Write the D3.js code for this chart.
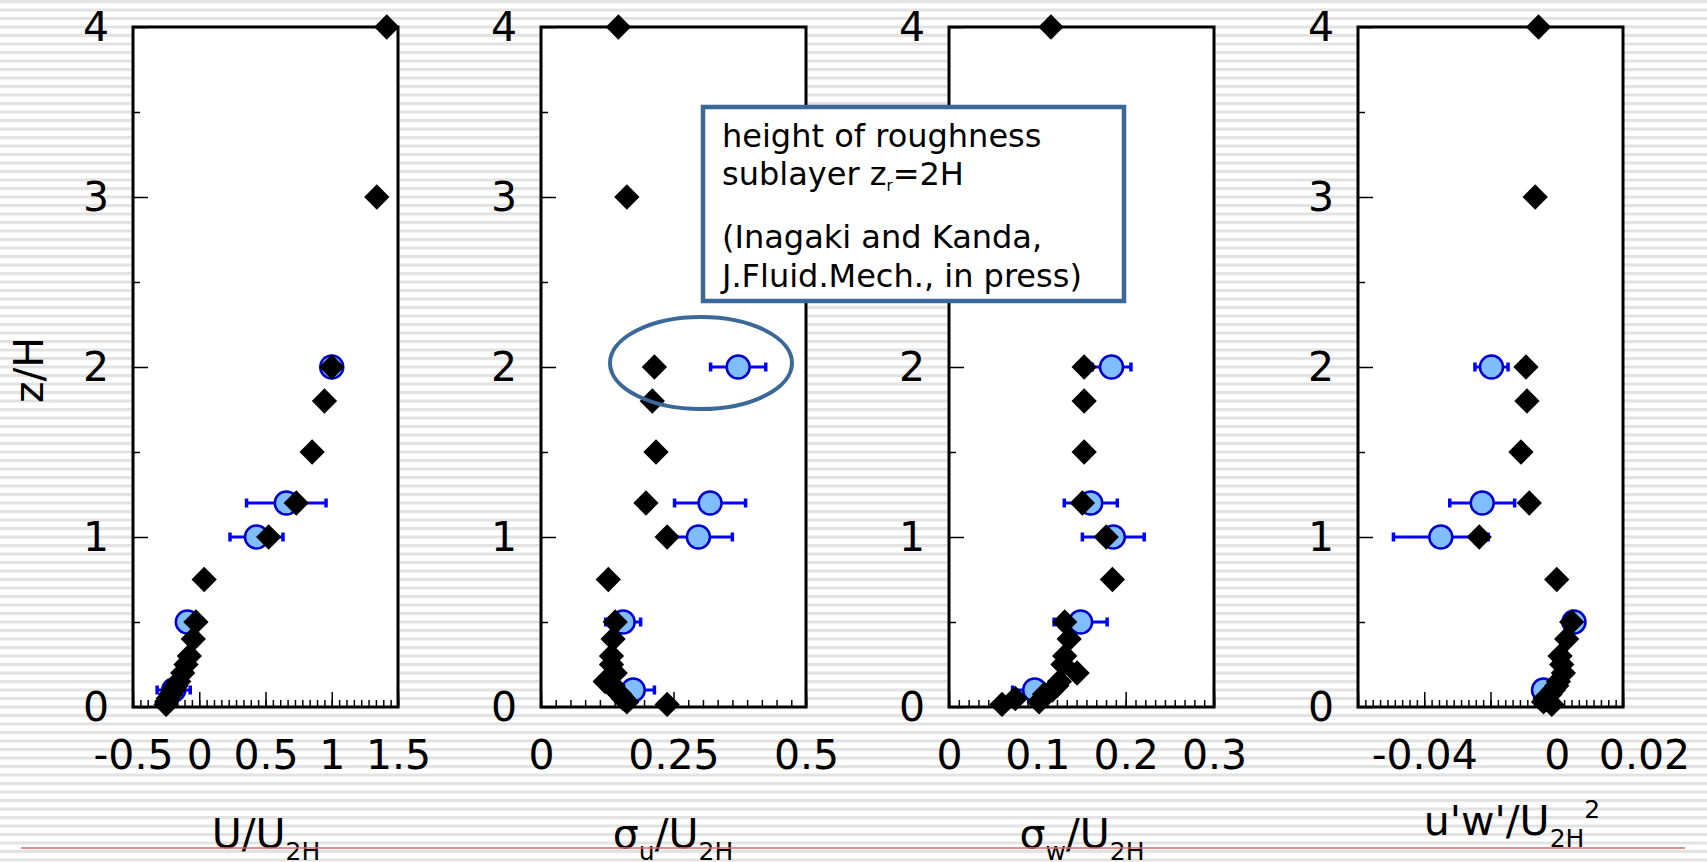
<!DOCTYPE html>
<html>
<head>
<meta charset="utf-8">
<script src="https://cdn.jsdelivr.net/npm/d3@7/dist/d3.min.js"></script>
<style>
  html, body { margin: 0; padding: 0; background: #fff; }
  svg { display: block; font-family: "DejaVu Sans", sans-serif; }
</style>
</head>
<body>
<svg id="chart" width="1707" height="862"></svg>
<script>
// heights of the model profile (diamonds), z/H
var zModel = [0.015, 0.03, 0.05, 0.075, 0.1, 0.125, 0.15, 0.2, 0.25, 0.3, 0.4, 0.5, 0.75, 1, 1.2, 1.5, 1.8, 2, 3, 4]
var meanU  = [-0.25, -0.245, -0.235, -0.215, -0.195, -0.175, -0.155, -0.125, -0.1, -0.075, -0.045, -0.025, 0.037, 0.524, 0.732, 0.852, 0.945, 1.0, 1.34, 1.415]
var sigmaU = [0.238, 0.162, 0.155, 0.149, 0.14, 0.136, 0.121, 0.14, 0.133, 0.133, 0.136, 0.14, 0.127, 0.238, 0.198, 0.217, 0.21, 0.214, 0.162, 0.146]
var sigmaW = [0.06, 0.102, 0.075, 0.108, 0.117, 0.122, 0.125, 0.145, 0.129, 0.131, 0.136, 0.131, 0.185, 0.178, 0.151, 0.153, 0.153, 0.153, 0.12, 0.1154]
var uwFlux = [-0.0015, -0.004, -0.0035, -0.002, -0.001, 0, 0.0005, 0.002, 0.0015, 0.001, 0.003, 0.0045, 0, -0.0234, -0.0083, -0.0108, -0.009, -0.0093, -0.0065, -0.0055]

// observations (circles with error bars)
var zObs = [0.1, 0.5, 1.0, 1.2, 2]
var obsU      = [-0.193, -0.09, 0.432, 0.657, 1.0]
var obsUErr   = [0.125, 0.015, 0.2, 0.3, 0.01]
var obsSu     = [0.174, 0.155, 0.297, 0.319, 0.372]
var obsSuErr  = [0.04, 0.033, 0.064, 0.067, 0.052]
var obsSw     = [0.097, 0.149, 0.186, 0.1605, 0.184]
var obsSwErr  = [0.025, 0.03, 0.035, 0.03, 0.022]
var obsUw     = [-0.004, 0.0052, -0.035, -0.0225, -0.0197]
var obsUwErr  = [0.002, 0.001, 0.0143, 0.0098, 0.005]

var yTicks = [0, 1, 2, 3, 4]

var svg = d3.select('#chart')
var W = 1707, H = 862

// striped background
var defs = svg.append('defs')
var pat = defs.append('pattern')
  .attr('id', 'stripes')
  .attr('patternUnits', 'userSpaceOnUse')
  .attr('width', 20).attr('height', 8.5)
pat.append('rect').attr('width', 20).attr('height', 8.5).attr('fill', '#ffffff')
pat.append('rect').attr('y', 0).attr('width', 20).attr('height', 3).attr('fill', '#e2e2e2')
svg.append('rect').attr('width', W).attr('height', H).attr('fill', 'url(#stripes)')

var plotTop = 27, plotBottom = 707
var yScale = d3.scaleLinear().domain([0, 4]).range([plotBottom, plotTop])

var panels = [
  { left: 133, right: 398, domain: [-0.5, 1.5], major: 0.5, labels: [-0.5, 0, 0.5, 1, 1.5],
    model: meanU, obs: obsU, err: obsUErr },
  { left: 541, right: 806, domain: [0, 0.5], major: 0.25, labels: [0, 0.25, 0.5],
    model: sigmaU, obs: obsSu, err: obsSuErr },
  { left: 949, right: 1214, domain: [0, 0.3], major: 0.1, labels: [0, 0.1, 0.2, 0.3],
    model: sigmaW, obs: obsSw, err: obsSwErr },
  { left: 1358, right: 1623, domain: [-0.06, 0.02], major: 0.02, labels: [-0.04, 0, 0.02],
    model: uwFlux, obs: obsUw, err: obsUwErr }
]

var fmt = function(d) { return String(+d.toFixed(4)) }

panels.forEach(function(p, pi) {
  var x = d3.scaleLinear().domain(p.domain).range([p.left, p.right])
  var g = svg.append('g')

  // frame
  g.append('rect')
    .attr('x', p.left).attr('y', plotTop)
    .attr('width', p.right - p.left).attr('height', plotBottom - plotTop)
    .attr('fill', '#fff').attr('stroke', '#000').attr('stroke-width', 3)

  // minor x ticks
  var minorStep = p.major / 9
  var minor = d3.range(p.domain[0], p.domain[1] + 1e-9, minorStep)
  g.append('g')
    .attr('transform', 'translate(0,' + plotBottom + ')')
    .call(d3.axisBottom(x).tickValues(minor).tickSize(-7).tickFormat(''))
    .call(function(a) { a.select('.domain').remove() })
    .selectAll('line').attr('stroke', '#000').attr('stroke-width', 1.5)

  // major x ticks + labels
  var majors = d3.range(p.domain[0], p.domain[1] + 1e-9, p.major)
  g.append('g')
    .attr('transform', 'translate(0,' + plotBottom + ')')
    .call(d3.axisBottom(x).tickValues(majors).tickSize(-15).tickFormat(''))
    .call(function(a) { a.select('.domain').remove() })
    .selectAll('line').attr('stroke', '#000').attr('stroke-width', 1.5)

  var xl = g.append('g')
    .attr('transform', 'translate(0,' + plotBottom + ')')
    .call(d3.axisBottom(x).tickValues(p.labels).tickSize(0).tickPadding(33).tickFormat(fmt))
  xl.select('.domain').remove()
  xl.selectAll('text').attr('font-size', 41).attr('fill', '#000')
    .attr('font-family', '"DejaVu Sans", sans-serif')
  if (pi === 3) {
    xl.selectAll('text').filter(function(d) { return d === 0.02 }).attr('dx', 21)
  }

  // y ticks
  g.append('g')
    .attr('transform', 'translate(' + p.left + ',0)')
    .call(d3.axisLeft(yScale).tickValues([0.5, 1.5, 2.5, 3.5]).tickSize(-7).tickFormat(''))
    .call(function(a) { a.select('.domain').remove() })
    .selectAll('line').attr('stroke', '#000').attr('stroke-width', 1.5)
  var yl = g.append('g')
    .attr('transform', 'translate(' + p.left + ',0)')
    .call(d3.axisLeft(yScale).tickValues(yTicks).tickSize(-15).tickPadding(24).tickFormat(d3.format('d')))
  yl.select('.domain').remove()
  yl.selectAll('line').attr('stroke', '#000').attr('stroke-width', 1.5)
  yl.selectAll('text').attr('font-size', 41).attr('fill', '#000')
    .attr('font-family', '"DejaVu Sans", sans-serif')

  // observations: error bars + circles
  var obs = zObs.map(function(z, i) { return { z: z, v: p.obs[i], e: p.err[i] } })
  var eb = g.append('g').selectAll('g').data(obs).enter().append('g')
  eb.append('line')
    .attr('x1', function(d) { return x(d.v - d.e) })
    .attr('x2', function(d) { return x(d.v + d.e) })
    .attr('y1', function(d) { return yScale(d.z) })
    .attr('y2', function(d) { return yScale(d.z) })
    .attr('stroke', '#0000ff').attr('stroke-width', 3)
  eb.selectAll('.cap').data(function(d) { return [[d.v - d.e, d.z], [d.v + d.e, d.z]] })
    .enter().append('line')
    .attr('x1', function(c) { return x(c[0]) }).attr('x2', function(c) { return x(c[0]) })
    .attr('y1', function(c) { return yScale(c[1]) - 4.5 })
    .attr('y2', function(c) { return yScale(c[1]) + 4.5 })
    .attr('stroke', '#0000ff').attr('stroke-width', 3.5)
  eb.append('circle')
    .attr('cx', function(d) { return x(d.v) })
    .attr('cy', function(d) { return yScale(d.z) })
    .attr('r', 11.5)
    .attr('fill', '#80bdff').attr('stroke', '#0000cc').attr('stroke-width', 2.5)

  // model profile: diamonds
  var sym = d3.symbol().type(d3.symbolSquare).size(320)
  g.append('g').selectAll('path')
    .data(zModel.map(function(z, i) { return { z: z, v: p.model[i] } }))
    .enter().append('path')
    .attr('d', sym)
    .attr('transform', function(d) { return 'translate(' + x(d.v) + ',' + yScale(d.z) + ') rotate(45)' })
    .attr('fill', '#000')
})

// y axis title
svg.append('text')
  .attr('transform', 'translate(43,370) rotate(-90)')
  .attr('text-anchor', 'middle')
  .attr('font-size', 41)
  .text('z/H')

// x axis titles
function title(cx, baseline, parts) {
  var t = svg.append('text').attr('x', cx).attr('y', baseline)
    .attr('text-anchor', 'middle').attr('font-size', 41)
  parts.forEach(function(pt) {
    var s = t.append('tspan').text(pt.t)
    if (pt.sub) s.attr('font-size', 25)
    if (pt.dy) s.attr('dy', pt.dy)
  })
  return t
}
title(266, 848, [{ t: 'U/U' }, { t: '2H', sub: true, dy: 12 }])
title(673, 848, [{ t: 'σ' }, { t: 'u', sub: true, dy: 12 }, { t: '/U', dy: -12 }, { t: '2H', sub: true, dy: 12 }])
title(1082, 848, [{ t: 'σ' }, { t: 'w', sub: true, dy: 12 }, { t: '/U', dy: -12 }, { t: '2H', sub: true, dy: 12 }])
title(1512, 835, [{ t: "u'w'/U" }, { t: '2H', sub: true, dy: 12 }, { t: '2', sub: true, dy: -29 }])

// red rule at the bottom
svg.append('line')
  .attr('x1', 21).attr('x2', 1685).attr('y1', 848).attr('y2', 848)
  .attr('stroke', '#e06666').attr('stroke-width', 1.5)

// annotation box and ellipse
var boxColor = '#3a6898'
svg.append('rect')
  .attr('x', 703).attr('y', 107).attr('width', 421).attr('height', 194)
  .attr('fill', '#fff').attr('stroke', boxColor).attr('stroke-width', 4.5)
var note = svg.append('g').attr('font-size', 32).attr('fill', '#000')
note.append('text').attr('x', 722).attr('y', 147).text('height of roughness')
var l2 = note.append('text').attr('x', 722).attr('y', 185)
l2.append('tspan').text('sublayer z')
l2.append('tspan').text('r').attr('font-size', 15).attr('dy', 6)
l2.append('tspan').text('=2H').attr('dy', -6)
note.append('text').attr('x', 722).attr('y', 248).text('(Inagaki and Kanda,')
note.append('text').attr('x', 722).attr('y', 287).text('J.Fluid.Mech., in press)')

svg.append('ellipse')
  .attr('cx', 701).attr('cy', 363).attr('rx', 91).attr('ry', 46)
  .attr('fill', 'none').attr('stroke', boxColor).attr('stroke-width', 4)
</script>
</body>
</html>
